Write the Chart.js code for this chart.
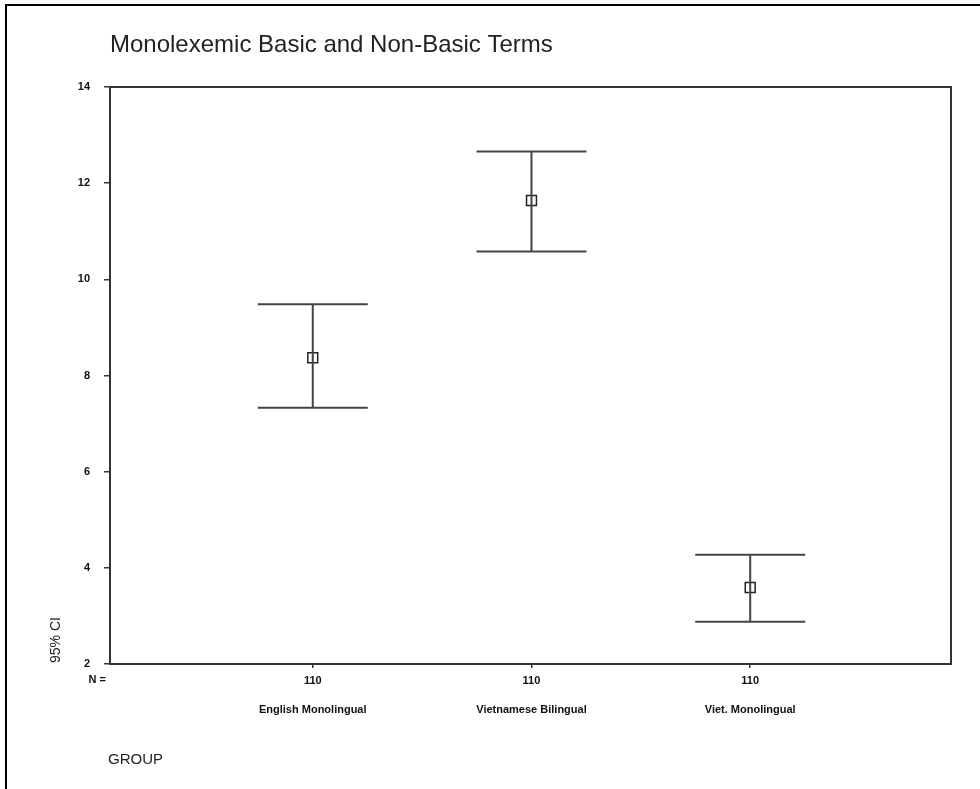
<!DOCTYPE html>
<html lang="en">
<head>
  <meta charset="UTF-8" />
  <title>Monolexemic Basic and Non-Basic Terms</title>
  <script src="https://cdn.jsdelivr.net/npm/chart.js"></script>
  <style>
    * { margin: 0; padding: 0; box-sizing: border-box; }
    body { background: #fff; width: 980px; height: 789px; overflow: hidden; }
    #wrap { width: 980px; height: 789px; }
  </style>
</head>
<body>
  <div id="wrap"><canvas id="ciChart" width="980" height="789"></canvas></div>

  <script>
    // data
    const groups = ['English Monolingual', 'Vietnamese Bilingual', 'Viet. Monolingual'];
    const nValues = [110, 110, 110];
    const means = [8.37, 11.64, 3.59];
    const lower = [7.33, 10.58, 2.88];
    const upper = [9.48, 12.66, 4.27];
    const yTicks = [2, 4, 6, 8, 10, 12, 14];

    const ink = '#333';
    const family = '"Liberation Sans", Arial, sans-serif';

    // frame, title, error bars and extra axis texts
    const decorations = {
      id: 'decorations',
      beforeDraw(chart) {
        const c = chart.ctx;
        c.save();
        c.fillStyle = '#fff';
        c.fillRect(0, 0, chart.width, chart.height);
        c.strokeStyle = '#000';
        c.lineWidth = 2;
        c.beginPath();
        c.moveTo(6, chart.height);
        c.lineTo(6, 5);
        c.lineTo(chart.width, 5);
        c.stroke();

        c.fillStyle = '#222';
        c.font = '24px ' + family;
        c.textBaseline = 'alphabetic';
        c.fillText('Monolexemic Basic and Non-Basic Terms', 110, 52);
        c.restore();
      },
      afterDatasetsDraw(chart) {
        const c = chart.ctx;
        const xs = chart.scales.x, ys = chart.scales.y;
        const area = chart.chartArea;
        c.save();
        c.strokeStyle = ink;
        c.lineWidth = 2;
        c.strokeRect(area.left, area.top, area.right - area.left, area.bottom - area.top);

        c.strokeStyle = '#444';
        groups.forEach((g, i) => {
          const x = xs.getPixelForValue(i + 1);
          const yLo = ys.getPixelForValue(lower[i]);
          const yHi = ys.getPixelForValue(upper[i]);
          c.beginPath();
          c.moveTo(x, yLo); c.lineTo(x, yHi);
          c.moveTo(x - 55, yLo); c.lineTo(x + 55, yLo);
          c.moveTo(x - 55, yHi); c.lineTo(x + 55, yHi);
          c.stroke();
        });

        c.fillStyle = '#111';
        c.font = 'bold 11px ' + family;
        c.textBaseline = 'middle';
        c.textAlign = 'right';
        c.fillText('N =', 106, 680);
        c.textAlign = 'center';
        groups.forEach((g, i) => {
          c.fillText(g, xs.getPixelForValue(i + 1), 710);
        });

        c.fillStyle = '#222';
        c.font = '15px ' + family;
        c.textAlign = 'left';
        c.fillText('GROUP', 108, 760);

        c.translate(56, 663);
        c.rotate(-Math.PI / 2);
        c.font = '14px ' + family;
        c.fillText('95% CI', 0, 0);
        c.restore();
      }
    };

    new Chart(document.getElementById('ciChart'), {
      type: 'scatter',
      data: {
        datasets: [{
          label: 'Mean',
          data: means.map((m, i) => ({ x: i + 1, y: m })),
          pointStyle: 'rect',
          pointRadius: 7,
          pointHoverRadius: 7,
          pointBorderWidth: 1.5,
          pointBorderColor: '#222',
          pointBackgroundColor: 'rgba(0,0,0,0)'
        }]
      },
      options: {
        responsive: false,
        animation: false,
        events: [],
        layout: { padding: { left: 0, top: 87, right: 29, bottom: 0 } },
        plugins: {
          legend: { display: false },
          tooltip: { enabled: false },
          title: { display: false }
        },
        scales: {
          x: {
            type: 'linear',
            min: 0.073,
            max: 3.918,
            afterBuildTicks: s => { s.ticks = nValues.map((n, i) => ({ value: i + 1 })); },
            afterFit: s => { s.height = 125; },
            ticks: {
              callback: (v, i) => String(nValues[i]),
              color: '#111',
              font: { family: family, size: 11, weight: 'bold' },
              padding: 6,
              maxRotation: 0
            },
            grid: { drawOnChartArea: false, tickLength: 4, color: ink, lineWidth: 1.5 },
            border: { color: ink, width: 2 }
          },
          y: {
            min: 2,
            max: 14,
            afterBuildTicks: s => { s.ticks = yTicks.map(v => ({ value: v })); },
            afterFit: s => { s.width = 110; },
            ticks: {
              color: '#111',
              font: { family: family, size: 11, weight: 'bold' },
              padding: 14
            },
            grid: { drawOnChartArea: false, tickLength: 6, color: ink, lineWidth: 1.5 },
            border: { color: ink, width: 2 }
          }
        }
      },
      plugins: [decorations]
    });
  </script>
</body>
</html>
